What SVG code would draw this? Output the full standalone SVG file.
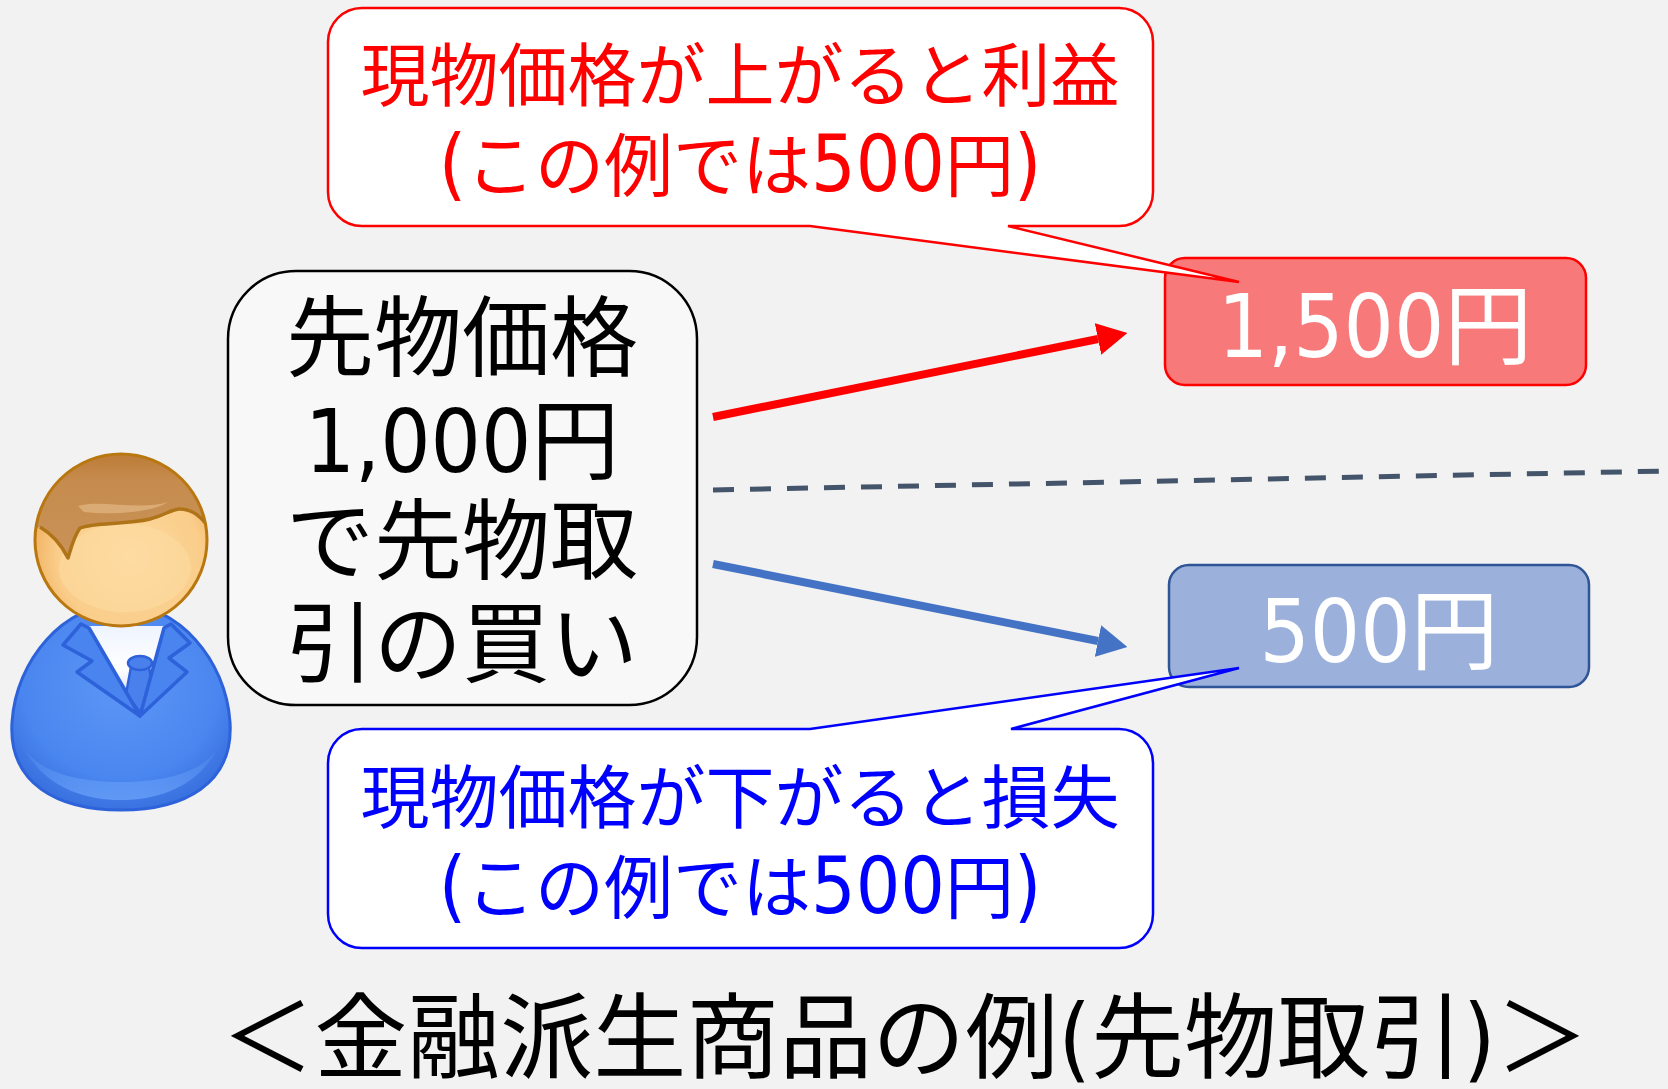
<svg xmlns="http://www.w3.org/2000/svg" width="1668" height="1089" viewBox="0 0 1668 1089">
  <defs>
    <style>
      .t { font-family: "DejaVu Sans Condensed", "Noto Sans CJK JP", sans-serif; text-anchor: middle; }
      .center { font-size: 88px; fill: #000; }
      .red { font-size: 69px; fill: #FF0000; }
      .blue { font-size: 69px; fill: #0000FF; }
      .num { font-size: 78px; }
      .price { font-size: 88px; fill: #FFFFFF; }
      .caption { font-size: 93px; fill: #000; }
      .conn { fill: none; stroke-linecap: butt; }
    </style>
    <marker id="headRed" markerUnits="userSpaceOnUse" markerWidth="30" markerHeight="32" viewBox="0 0 30 32" refX="0" refY="16" orient="auto">
      <path d="M0,0 L30,16 L0,32 Z" fill="#FF0000"/>
    </marker>
    <marker id="headBlue" markerUnits="userSpaceOnUse" markerWidth="30" markerHeight="32" viewBox="0 0 30 32" refX="0" refY="16" orient="auto">
      <path d="M0,0 L30,16 L0,32 Z" fill="#4472C4"/>
    </marker>
    <radialGradient id="suit" cx="0.5" cy="0.4" r="0.6">
      <stop offset="0" stop-color="#5C96F6"/>
      <stop offset="0.75" stop-color="#4A86EF"/>
      <stop offset="1" stop-color="#3A72E0"/>
    </radialGradient>
    <linearGradient id="suitSheen" x1="0" y1="0" x2="0" y2="1">
      <stop offset="0" stop-color="#6EA6FB" stop-opacity="0"/>
      <stop offset="1" stop-color="#6EA6FB" stop-opacity="0.7"/>
    </linearGradient>
    <linearGradient id="shirt" x1="0" y1="0" x2="0" y2="1">
      <stop offset="0" stop-color="#EEF4FF"/>
      <stop offset="0.5" stop-color="#FFFFFF"/>
      <stop offset="1" stop-color="#BFC9F4"/>
    </linearGradient>
    <radialGradient id="face" cx="0.55" cy="0.6" r="0.6">
      <stop offset="0" stop-color="#FDDA9F"/>
      <stop offset="0.7" stop-color="#FACD8A"/>
      <stop offset="1" stop-color="#EFAE5C"/>
    </radialGradient>
    <linearGradient id="hair" x1="0" y1="0" x2="0" y2="1">
      <stop offset="0" stop-color="#B9732B"/>
      <stop offset="0.35" stop-color="#C68C4E"/>
      <stop offset="1" stop-color="#C99258"/>
    </linearGradient>
    <clipPath id="headClip">
      <circle cx="121" cy="540" r="86"/>
    </clipPath>
  </defs>

  <rect x="0" y="0" width="1668" height="1089" fill="#F2F2F2"/>

  <!-- person icon -->
  <g id="person">
    <path d="M121,604 C178,604 226,660 230,722 C234,784 184,810 121,810 C58,810 8,784 12,722 C16,660 64,604 121,604 Z" fill="url(#suit)" stroke="#2E62DA" stroke-width="3"/>
    <path d="M20,740 C40,785 80,800 121,800 C162,800 202,785 222,740 C210,770 170,782 121,782 C72,782 32,770 20,740 Z" fill="url(#suitSheen)"/>
    <path d="M85,626 L167,626 L140,712 Z" fill="url(#shirt)"/>
    <path d="M131,667 L126,694 L140,712 L154,694 L149,667 Z" fill="#4A80EC" stroke="#2E62DA" stroke-width="2.5" stroke-linejoin="round"/>
    <ellipse cx="140" cy="663" rx="12" ry="7" fill="#4A80EC" stroke="#2E62DA" stroke-width="2.5"/>
    <path d="M81,624 L63,645 L92,661 L77,672 L140,716 L89,628 Z" fill="#4A84EE" stroke="#2E62DA" stroke-width="3.5" stroke-linejoin="round"/>
    <path d="M171,624 L190,643 L169,658 L187,672 L140,716 L164,628 Z" fill="#4A84EE" stroke="#2E62DA" stroke-width="3.5" stroke-linejoin="round"/>
    <circle cx="121" cy="540" r="86" fill="url(#face)"/>
    <g clip-path="url(#headClip)">
      <ellipse cx="125" cy="568" rx="66" ry="44" fill="#FDDCA4" opacity="0.55"/>
      <path d="M30,530 L40,527 C52,534 62,546 68,558 C71,548 74,536 80,528 C95,522 125,525 150,519 C165,515 172,509 180,509 C192,509 200,516 206,524 L215,528 L215,440 L30,440 Z" fill="url(#hair)"/>
      <path d="M40,527 C52,534 62,546 68,558 C71,548 74,536 80,528 C95,522 125,525 150,519 C165,515 172,509 180,509 C192,509 200,516 206,524" fill="none" stroke="#B07418" stroke-width="3.5" stroke-linejoin="round"/>
      <path d="M78,506 C100,499 140,511 168,502 C152,513 110,515 84,512 Z" fill="#DDB07A" opacity="0.85"/>
    </g>
    <circle cx="121" cy="540" r="86" fill="none" stroke="#B9770F" stroke-width="3"/>
  </g>

  <!-- price movement arrows and the reference level -->
  <g id="connectors">
    <line class="conn" x1="713" y1="417" x2="1098" y2="339" stroke="#FF0000" stroke-width="8" marker-end="url(#headRed)"/>
    <line class="conn" x1="713" y1="564" x2="1098" y2="641" stroke="#4472C4" stroke-width="8" marker-end="url(#headBlue)"/>
    <line class="conn" x1="713" y1="490" x2="1668" y2="471" stroke="#44546A" stroke-width="5" stroke-dasharray="21 16"/>
  </g>

  <!-- contract box -->
  <g id="contract">
    <rect x="228" y="271" width="469" height="434" rx="68" ry="68" fill="#F8F8F8" stroke="#000" stroke-width="2.5"/>
    <text class="t center" x="462" y="369">先物価格</text>
    <text class="t center" x="462" y="472">1,000円</text>
    <text class="t center" x="462" y="572">で先物取</text>
    <text class="t center" x="462" y="675">引の買い</text>
  </g>

  <!-- price up -->
  <g id="price-up">
    <rect x="1165" y="258" width="421" height="127" rx="20" ry="20" fill="#F87979" stroke="#FF0000" stroke-width="2.5"/>
    <text class="t price" x="1375" y="357">1,500円</text>
  </g>

  <!-- price down -->
  <g id="price-down">
    <rect x="1169" y="565" width="420" height="122" rx="20" ry="20" fill="#9BB1DB" stroke="#2F5597" stroke-width="2.5"/>
    <text class="t price" x="1379" y="662">500円</text>
  </g>

  <!-- gain callout (tail overlaps the price box) -->
  <g id="callout-gain">
    <path d="M362,8 H1119 A34 34 0 0 1 1153 42 V192 A34 34 0 0 1 1119 226 H1008 L1239 282 L810 226 H362 A34 34 0 0 1 328 192 V42 A34 34 0 0 1 362 8 Z" fill="#FFFFFF" stroke="#FF0000" stroke-width="2.5" stroke-linejoin="miter"/>
    <text class="t red" x="740" y="101">現物価格が上がると利益</text>
    <text class="t red" x="740" y="191"><tspan class="num">(</tspan>この例では<tspan class="num">500</tspan>円<tspan class="num">)</tspan></text>
  </g>

  <!-- loss callout (tail overlaps the price box) -->
  <g id="callout-loss">
    <path d="M362,729 H810 L1239,668 L1011,729 H1119 A34 34 0 0 1 1153 763 V914 A34 34 0 0 1 1119 948 H362 A34 34 0 0 1 328 914 V763 A34 34 0 0 1 362 729 Z" fill="#FFFFFF" stroke="#0000FF" stroke-width="2.5" stroke-linejoin="miter"/>
    <text class="t blue" x="740" y="823">現物価格が下がると損失</text>
    <text class="t blue" x="740" y="913"><tspan class="num">(</tspan>この例では<tspan class="num">500</tspan>円<tspan class="num">)</tspan></text>
  </g>

  <!-- caption -->
  <g id="caption">
    <text class="t caption" x="905" y="1071">＜金融派生商品の例(先物取引)＞</text>
  </g>
</svg>
